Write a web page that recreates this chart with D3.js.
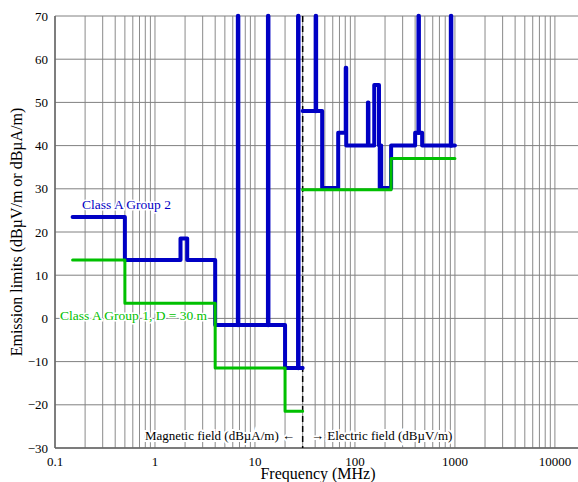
<!DOCTYPE html>
<html>
<head>
<meta charset="utf-8">
<script src="https://cdn.jsdelivr.net/npm/d3@7"></script>
<style>
  body { margin: 0; background: #fff; }
  svg text { font-family: "Liberation Serif", "Times New Roman", Times, serif; }
</style>
</head>
<body>
<div id="chart"></div>
<script>
// Class A Group 2 (blue): magnetic field below 30 MHz, electric field above
const blueMagFreq  = [0.15, 0.5, 1.8, 2.1, 4, 20, 30];
const blueMagLevel = [23.5, 13.5, 18.5, 13.5, -1.5, -11.5, -11.5];
const blueElFreq  = [30, 47, 68, 80.872, 81.848, 134.786, 136.414, 156, 174, 177, 180, 183, 230, 400, 470, 1000];
const blueElLevel = [48, 30.2, 43, 58, 40, 50, 40, 54, 40, 30.2, 40, 30.2, 40, 43, 40, 40];

// ISM spikes on the blue limit
const spikeFreq = [6.78, 13.56, 27.12, 40.68, 433.92, 915];
const spikeBase = [-1.5, -1.5, -11.5, 48, 43, 40];

// Class A Group 1, D = 30 m (green)
const greenMagFreq  = [0.15, 0.5, 4, 20, 30];
const greenMagLevel = [13.5, 3.5, -11.5, -21.5, -21.5];
const greenElFreq  = [30, 230, 1000];
const greenElLevel = [29.8, 37, 37];

const xTicks = [0.1, 1, 10, 100, 1000, 10000];
const yTicks = [-30, -20, -10, 0, 10, 20, 30, 40, 50, 60, 70];

const width = 578, height = 482;
const margin = { top: 16, left: 55, bottom: 448 };
const serif = "Liberation Serif, Times New Roman, serif";

const svg = d3.select("#chart").append("svg")
    .attr("width", width)
    .attr("height", height)
    .attr("font-family", serif);

const x = d3.scaleLog()
    .domain([0.1, 20000])
    .range([margin.left, 585]);

const y = d3.scaleLinear()
    .domain([-30, 70])
    .range([margin.bottom, margin.top]);

// grid: 1..9 in every decade from 0.1 up to 10000
const minor = [];
for (let e = -1; e <= 3; e++) {
    for (let k = 1; k <= 9; k++) minor.push(+(k * Math.pow(10, e)).toPrecision(3));
}
minor.push(10000);

svg.append("g")
    .selectAll("line")
    .data(minor)
    .join("line")
    .attr("x1", d => x(d)).attr("x2", d => x(d))
    .attr("y1", y(70)).attr("y2", y(-30))
    .attr("stroke", "#8a8a8a")
    .attr("stroke-width", 1);

svg.append("g")
    .selectAll("line")
    .data(yTicks)
    .join("line")
    .attr("x1", x(0.1)).attr("x2", x(20000))
    .attr("y1", d => y(d)).attr("y2", d => y(d))
    .attr("stroke", "#808080")
    .attr("stroke-width", 1);

// frame (left & bottom)
svg.append("line")
    .attr("x1", x(0.1)).attr("x2", x(0.1))
    .attr("y1", y(70)).attr("y2", y(-30))
    .attr("stroke", "#666").attr("stroke-width", 1.5);
svg.append("line")
    .attr("x1", x(0.1)).attr("x2", x(20000))
    .attr("y1", y(-30)).attr("y2", y(-30))
    .attr("stroke", "#666").attr("stroke-width", 1.5);

// tick labels
svg.append("g")
    .selectAll("text")
    .data(xTicks)
    .join("text")
    .attr("x", d => x(d))
    .attr("y", 466)
    .attr("text-anchor", "middle")
    .attr("font-size", 13)
    .text(d => d);

svg.append("g")
    .selectAll("text")
    .data(yTicks)
    .join("text")
    .attr("x", 48)
    .attr("y", d => y(d) + 4.5)
    .attr("text-anchor", "end")
    .attr("font-size", 13)
    .text(d => d3.format("d")(d));

svg.append("text")
    .attr("x", 318)
    .attr("y", 479)
    .attr("text-anchor", "middle")
    .attr("font-size", 16)
    .text("Frequency (MHz)");

svg.append("text")
    .attr("transform", `translate(22, ${(margin.top + margin.bottom) / 2}) rotate(-90)`)
    .attr("text-anchor", "middle")
    .attr("font-size", 16)
    .text("Emission limits (dBµV/m or dBµA/m)");

// 30 MHz boundary
svg.append("line")
    .attr("x1", x(30)).attr("x2", x(30))
    .attr("y1", y(70)).attr("y2", y(-30))
    .attr("stroke", "#000")
    .attr("stroke-width", 1.5)
    .attr("stroke-dasharray", "6,4");

svg.append("text")
    .attr("x", 295).attr("y", 440)
    .attr("text-anchor", "end")
    .attr("font-size", 13)
    .attr("stroke", "#fff").attr("stroke-width", 4).attr("paint-order", "stroke")
    .text("Magnetic field (dBµA/m) \u2190");

svg.append("text")
    .attr("x", 311).attr("y", 440)
    .attr("font-size", 13)
    .attr("stroke", "#fff").attr("stroke-width", 4).attr("paint-order", "stroke")
    .text("\u2192 Electric field (dBµV/m)");

// limit lines
const step = d3.line()
    .x(d => x(d[0]))
    .y(d => y(d[1]))
    .curve(d3.curveStepAfter);

const zip = (f, l) => f.map((v, i) => [v, l[i]]);

const blue = "#0000c4", green = "#00c000";

[zip(blueMagFreq, blueMagLevel), zip(blueElFreq, blueElLevel)].forEach(pts => {
    svg.append("path")
        .attr("d", step(pts))
        .attr("fill", "none")
        .attr("stroke", blue)
        .attr("stroke-width", 4)
        .attr("stroke-linejoin", "round")
        .attr("stroke-linecap", "round");
});

svg.append("g")
    .selectAll("line")
    .data(spikeFreq)
    .join("line")
    .attr("x1", d => x(d)).attr("x2", d => x(d))
    .attr("y1", (d, i) => y(spikeBase[i]))
    .attr("y2", y(70))
    .attr("stroke", blue)
    .attr("stroke-width", 4.5)
    .attr("stroke-linecap", "round");

[zip(greenMagFreq, greenMagLevel), zip(greenElFreq, greenElLevel)].forEach(pts => {
    svg.append("path")
        .attr("d", step(pts))
        .attr("fill", "none")
        .attr("stroke", green)
        .attr("stroke-width", 3)
        .attr("stroke-linejoin", "round")
        .attr("stroke-linecap", "round");
});

// series labels
svg.append("text")
    .attr("x", 82).attr("y", 209)
    .attr("font-size", 13.5)
    .attr("fill", blue)
    .attr("stroke", "#fff").attr("stroke-width", 3).attr("paint-order", "stroke")
    .text("Class A Group 2");

svg.append("text")
    .attr("x", 60).attr("y", 320)
    .attr("font-size", 13.5)
    .attr("fill", green)
    .attr("stroke", "#fff").attr("stroke-width", 3).attr("paint-order", "stroke")
    .text("Class A Group 1, D = 30 m");
</script>
</body>
</html>
